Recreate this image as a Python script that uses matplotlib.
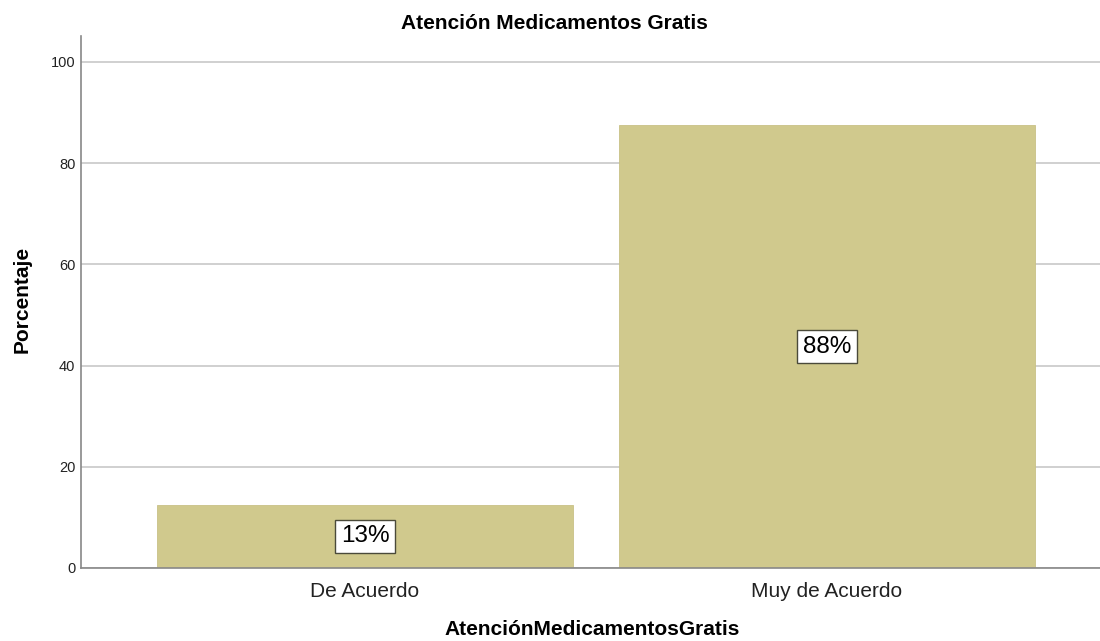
import matplotlib
matplotlib.use("Agg")
import matplotlib.pyplot as plt

categories = ["De Acuerdo", "Muy de Acuerdo"]
percentages = [12.5, 87.5]
bar_labels = ["13%", "88%"]
yticks = [0, 20, 40, 60, 80, 100]

plt.rcParams['font.family'] = ['Liberation Sans', 'DejaVu Sans']

fig = plt.figure(figsize=(11, 6.41), dpi=100)
ax = fig.add_axes([0.0736, 0.1139, 0.93, 0.83])

x = list(range(len(categories)))
ax.bar(x, percentages, width=0.9, color='#d0c98d', edgecolor='#c8c186', linewidth=0.6, zorder=2)

for xi, v, lab in zip(x, percentages, bar_labels):
    ax.text(xi, v / 2, lab, ha='center', va='center', fontsize=17.5, color='black',
            bbox=dict(boxstyle='square,pad=0.24', facecolor='white', edgecolor='#4a4a3a', linewidth=1.0),
            zorder=3)

ax.set_xlim(-0.615, 1.6)
ax.set_ylim(0, 105.1)
ax.set_yticks(yticks)
ax.set_yticklabels([str(t) for t in yticks], fontsize=10.5, color='#222222')
ax.set_xticks(x)
ax.set_xticklabels(categories, fontsize=15, color='#222222')
ax.tick_params(axis='y', length=0, pad=4)
ax.tick_params(axis='x', length=0, pad=10)

ax.yaxis.grid(True, color='#c8c8c8', linewidth=1.2, zorder=0)
ax.set_axisbelow(True)
for s in ['top', 'right']:
    ax.spines[s].set_visible(False)
for s in ['left', 'bottom']:
    ax.spines[s].set_color('#888888')
    ax.spines[s].set_linewidth(1.2)

ax.set_title("Atención Medicamentos Gratis", fontsize=15, fontweight='bold', pad=5, x=0.4624)
ax.set_ylabel("Porcentaje", fontsize=15, fontweight='bold', va='center', ha='center')
ax.yaxis.set_label_coords(-0.0576, 0.504)
ax.set_xlabel("AtenciónMedicamentosGratis", fontsize=15, fontweight='bold', va='center', ha='center')
ax.xaxis.set_label_coords(0.5, -0.1165)

fig.savefig("out.png", dpi=100, facecolor='white')
